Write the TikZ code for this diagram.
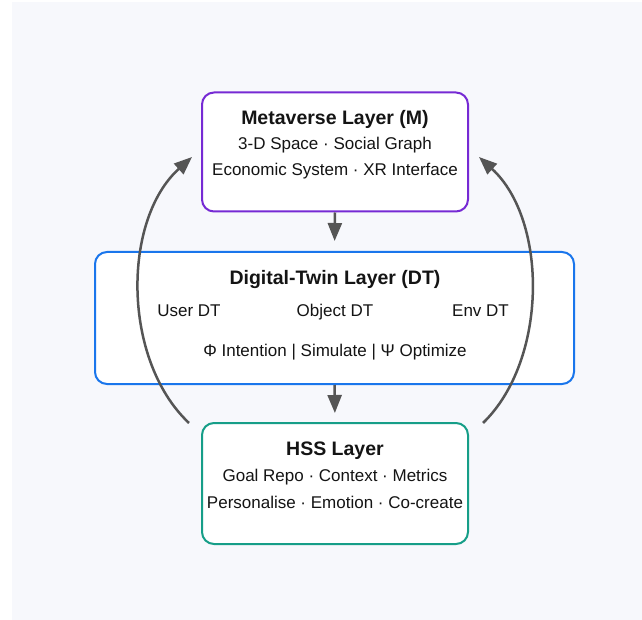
\documentclass[tikz,border=0pt]{standalone}
\usepackage{fontspec}
\setmainfont{Liberation Sans}
\usetikzlibrary{arrows.meta,calc}
\definecolor{bgpanel}{RGB}{247,248,252}
\definecolor{mvpurple}{RGB}{118,42,212}
\definecolor{dtblue}{RGB}{26,118,236}
\definecolor{hssteal}{RGB}{22,158,136}
\definecolor{flowgray}{RGB}{85,85,85}
\definecolor{ink}{RGB}{20,20,20}
\begin{document}
\begin{tikzpicture}[x=1pt,y=-1pt,
  layer/.style={draw, fill=white, rounded corners=12pt, line width=2pt, inner sep=0pt},
  ttl/.style={font=\fontsize{19.5}{22}\selectfont\bfseries, text=ink, inner sep=0pt, anchor=base},
  body/.style={font=\fontsize{17}{20}\selectfont, text=ink, inner sep=0pt, anchor=base},
  flow/.style={draw=flowgray, line width=2.5pt, -{Triangle[length=18pt,width=14pt]}}
]
\useasboundingbox (0,0) rectangle (642,620);
\fill[bgpanel] (12,2) rectangle (642,620);

% layer boxes
\node[layer, draw=mvpurple, minimum width=266pt, minimum height=119pt] (M) at (335,152) {};
\node[layer, draw=dtblue, minimum width=479pt, minimum height=132pt] (DT) at (334.5,318) {};
\node[layer, draw=hssteal, minimum width=266pt, minimum height=121pt] (H) at (335,483.5) {};

% metaverse layer text
\node[ttl] (Mt) at (335,124.5) {Metaverse Layer (M)};
\node[body] (M1) at (335,150) {3-D Space · Social Graph};
\node[body] (M2) at (335,176) {Economic System · XR Interface};

% digital-twin layer text
\node[ttl] (DTt) at (335,284) {Digital-Twin Layer (DT)};
\node[body] (DTu) at (189,316.5) {User DT};
\node[body] (DTo) at (335,316.5) {Object DT};
\node[body] (DTe) at (480.5,316.5) {Env DT};
\node[body] (DTf) at (335,356.5) {Φ Intention | Simulate | Ψ Optimize};

% hss layer text
\node[ttl] (Ht) at (335,455) {HSS Layer};
\node[body] (H1) at (335,481.5) {Goal Repo · Context · Metrics};
\node[body] (H2) at (335,508) {Personalise · Emotion · Co-create};

% downward flow
\draw[flow, shorten >=10pt] (M.south) -- (DT.north);
\draw[flow, shorten >=9pt] (DT.south) -- (H.north);

% feedback loops
\coordinate (lb) at ($(H.north west)+(-12,1)$);
\coordinate (lt) at ($(M.west)+(-9,5)$);
\coordinate (rb) at ($(H.north east)+(14,1)$);
\coordinate (rt) at ($(M.east)+(10,5)$);
\draw[flow] (lb) .. controls (122,360) and (122,220) .. (lt);
\draw[flow] (rb) .. controls (548,360) and (548,220) .. (rt);
\end{tikzpicture}
\end{document}
